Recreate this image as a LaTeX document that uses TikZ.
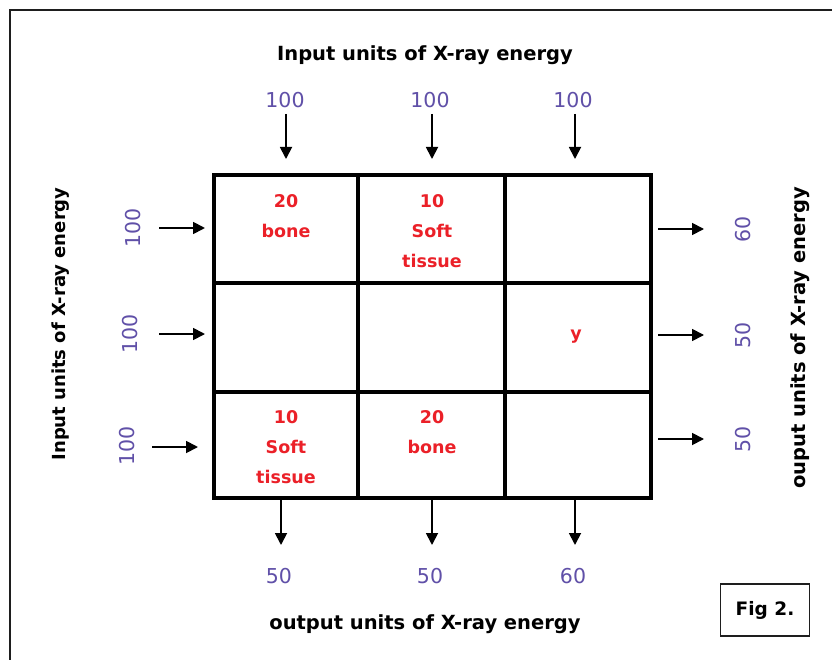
\documentclass[tikz,border=0pt]{standalone}
\usepackage{fontspec}
\setmainfont{DejaVu Sans}
\usetikzlibrary{arrows.meta}
\definecolor{numcol}{RGB}{96,80,168}
\definecolor{tiscol}{RGB}{235,32,40}
\definecolor{framecol}{RGB}{30,30,30}
\begin{document}
\begin{tikzpicture}[x=1pt,y=-1pt,
  title/.style={font=\fontsize{19.5}{22}\selectfont\bfseries, text=black, inner sep=0pt},
  num/.style={font=\fontsize{20.5}{22}\selectfont, text=numcol, inner sep=0pt},
  tis/.style={font=\fontsize{17.5}{30}\selectfont\bfseries, text=tiscol, align=center, inner sep=0pt},
  flow/.style={-{Triangle[length=12pt,width=12pt]}, line width=1.8pt, black},
  gridline/.style={line width=3.2pt, black}
]
\useasboundingbox (0,0) rectangle (832,660);
\fill[white] (0,0) rectangle (832,660);
% outer frame (cropped at right and bottom)
\draw[line width=2pt, framecol] (10,660) -- (10,10) -- (832,10);

% grid
\draw[gridline] (214,175) rectangle (651,498);
\draw[gridline] (358,175) -- (358,498);
\draw[gridline] (505,175) -- (505,498);
\draw[gridline] (214,283) -- (651,283);
\draw[gridline] (214,392) -- (651,392);

% cell contents
\node[tis, anchor=north] (c11) at (286,194) {20\\bone};
\node[tis, anchor=north] (c12) at (432,194) {10\\Soft\\tissue};
\node[tis] (c23) at (576,337) {y};
\node[tis, anchor=north] (c31) at (286,410) {10\\Soft\\tissue};
\node[tis, anchor=north] (c32) at (432,410) {20\\bone};

% titles
\node[title] (ttop) at (425,55) {Input units of X-ray energy};
\node[title] (tbot) at (425,624) {output units of X-ray energy};
\node[title, font=\fontsize{18}{20}\selectfont\bfseries, rotate=90] (tleft) at (61,324) {Input units of X-ray energy};
\node[title, rotate=90] (tright) at (800,338) {ouput units of X-ray energy};

% top inputs
\node[num] (t1) at (285,100) {100};
\node[num] (t2) at (430,100) {100};
\node[num] (t3) at (573,100) {100};
\coordinate (t1a) at (286,114); \coordinate (t1b) at (286,159);
\coordinate (t2a) at (432,114); \coordinate (t2b) at (432,159);
\coordinate (t3a) at (575,114); \coordinate (t3b) at (575,159);
\draw[flow] (t1a) -- (t1b);
\draw[flow] (t2a) -- (t2b);
\draw[flow] (t3a) -- (t3b);

% bottom outputs
\coordinate (b1a) at (281,499); \coordinate (b1b) at (281,545);
\coordinate (b2a) at (432,499); \coordinate (b2b) at (432,545);
\coordinate (b3a) at (575,499); \coordinate (b3b) at (575,545);
\draw[flow] (b1a) -- (b1b);
\draw[flow] (b2a) -- (b2b);
\draw[flow] (b3a) -- (b3b);
\node[num] (b1) at (279,576) {50};
\node[num] (b2) at (430,576) {50};
\node[num] (b3) at (573,576) {60};

% left inputs
\node[num, rotate=90] (l1) at (133,228) {100};
\node[num, rotate=90] (l2) at (130,334) {100};
\node[num, rotate=90] (l3) at (127,446) {100};
\coordinate (l1a) at (159,228); \coordinate (l1b) at (205,228);
\coordinate (l2a) at (159,334); \coordinate (l2b) at (205,334);
\coordinate (l3a) at (152,447); \coordinate (l3b) at (198,447);
\draw[flow] (l1a) -- (l1b);
\draw[flow] (l2a) -- (l2b);
\draw[flow] (l3a) -- (l3b);

% right outputs
\coordinate (r1a) at (658,229); \coordinate (r1b) at (704,229);
\coordinate (r2a) at (658,335); \coordinate (r2b) at (704,335);
\coordinate (r3a) at (658,439); \coordinate (r3b) at (704,439);
\draw[flow] (r1a) -- (r1b);
\draw[flow] (r2a) -- (r2b);
\draw[flow] (r3a) -- (r3b);
\node[num, rotate=90] (r1) at (743,229) {60};
\node[num, rotate=90] (r2) at (743,335) {50};
\node[num, rotate=90] (r3) at (743,439) {50};

% figure label
\node[draw=framecol, line width=1.5pt, minimum width=89pt, minimum height=52pt, inner sep=0pt,
      font=\fontsize{18.5}{20}\selectfont\bfseries] (fig) at (765,610) {Fig 2.};
\end{tikzpicture}
\end{document}
